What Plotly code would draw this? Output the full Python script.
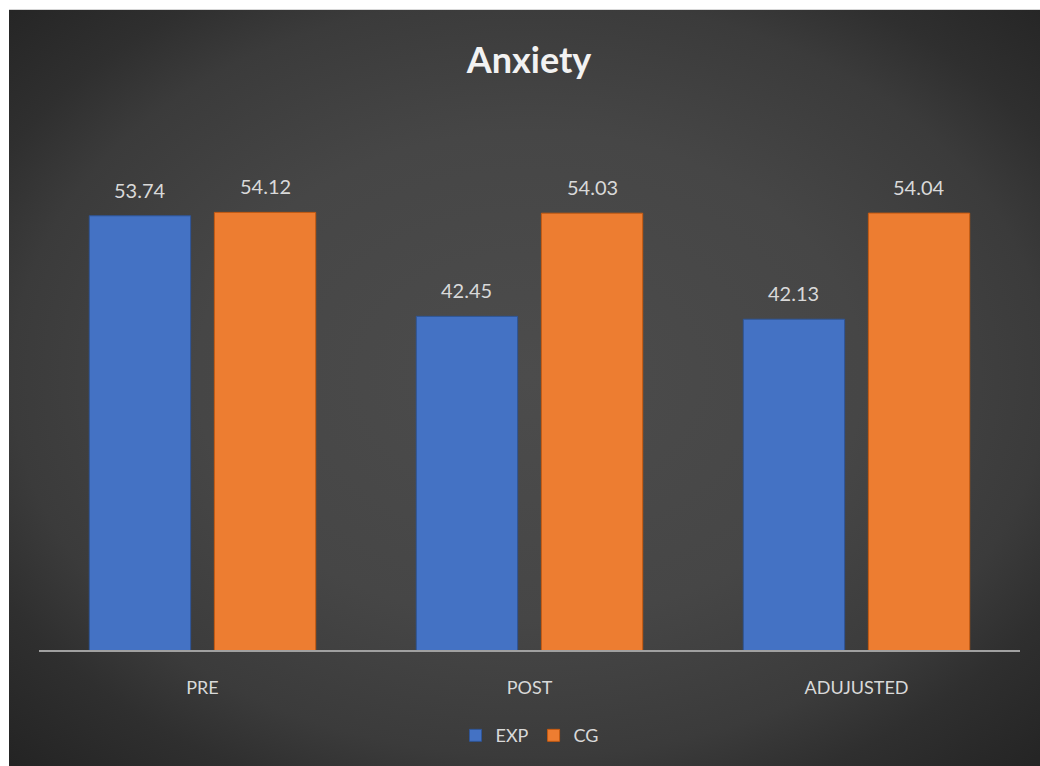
import base64
import plotly.graph_objects as go

categories = ["PRE", "POST", "ADUJUSTED"]
exp_values = [53.74, 42.45, 42.13]
cg_values = [54.12, 54.03, 54.04]
series_names = ["EXP", "CG"]
title_text = "Anxiety"

W, H = 1040, 766
ML, MR, MT, MB = 39, 20, 160, 114
BARGAP = 0.235
GROUPGAP = 0.19
FONT = "Lato, 'Open Sans', sans-serif"
LABEL_COLOR = "#d9d9d9"

# radial gradient background as an SVG image
svg = f"""<svg xmlns='http://www.w3.org/2000/svg' width='1031' height='757' viewBox='0 0 1031 757' preserveAspectRatio='none'>
<defs><radialGradient id='g' cx='50%' cy='48%' r='71%'>
<stop offset='0' stop-color='#4c4c4c'/>
<stop offset='0.45' stop-color='#464646'/>
<stop offset='0.7' stop-color='#3b3b3b'/>
<stop offset='0.82' stop-color='#2f2f2f'/>
<stop offset='1' stop-color='#242424'/>
</radialGradient></defs>
<rect x='0' y='0' width='1031' height='757' fill='url(#g)'/></svg>"""
svg_uri = "data:image/svg+xml;base64," + base64.b64encode(svg.encode()).decode()

pw = W - ML - MR
ph = H - MT - MB

fig = go.Figure()
fig.add_trace(go.Bar(
    x=categories, y=exp_values, name=series_names[0],
    marker=dict(color="#4472C4", line=dict(color="#2F5597", width=1)),
))
fig.add_trace(go.Bar(
    x=categories, y=cg_values, name=series_names[1],
    marker=dict(color="#ED7D31", line=dict(color="#C55A11", width=1)),
))

# data labels above bars
slot_px = pw / len(categories) * (1 - BARGAP) / 2
annotations = []
for vals, sgn in ((exp_values, -1), (cg_values, 1)):
    for c, v in zip(categories, vals):
        annotations.append(dict(
            x=c, y=v, xref="x", yref="y", text=f"{v:.2f}", showarrow=False,
            xshift=sgn * slot_px / 2, yshift=26, yanchor="middle",
            font=dict(family=FONT, size=20, color=LABEL_COLOR),
        ))

fig.update_layout(
    width=W, height=H,
    margin=dict(l=ML, r=MR, t=MT, b=MB),
    paper_bgcolor="white",
    plot_bgcolor="rgba(0,0,0,0)",
    barmode="group", bargap=BARGAP, bargroupgap=GROUPGAP,
    title=dict(text=f"<b>{title_text}</b>", x=529 / W, xanchor="center",
               y=1 - 60 / H, yanchor="middle", xref="container", yref="container",
               font=dict(family=FONT, size=36, color="#f2f2f2")),
    images=[dict(source=svg_uri, xref="paper", yref="paper",
                 x=(9 - ML) / pw, y=(H - MB - 9) / ph,
                 sizex=(W + 10 - 9) / pw, sizey=(H + 10 - 9) / ph,
                 sizing="stretch", xanchor="left", yanchor="top", layer="below")],
    xaxis=dict(showline=True, linecolor="#a0a0a0", linewidth=2,
               showgrid=False, zeroline=False, ticks="",
               tickfont=dict(family=FONT, size=18, color=LABEL_COLOR),
               ticklabelstandoff=20),
    yaxis=dict(range=[5, 60], visible=False, showgrid=False),
    legend=dict(orientation="h", x=0.5, xanchor="center", y=-(738 - (H - MB)) / ph,
                yanchor="middle", font=dict(family=FONT, size=18, color=LABEL_COLOR),
                bgcolor="rgba(0,0,0,0)", itemwidth=30, traceorder="normal"),
    annotations=annotations,
    showlegend=True,
)

fig.write_html("out.html")
